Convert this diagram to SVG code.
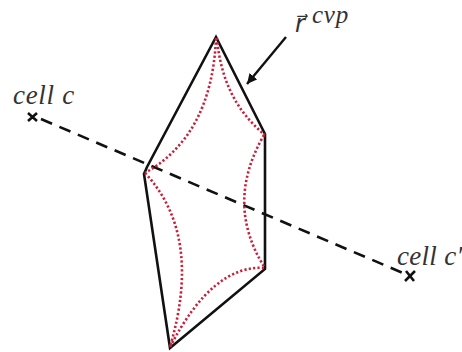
<svg xmlns="http://www.w3.org/2000/svg" width="462" height="352" viewBox="0 0 462 352">
<defs>
<marker id="ah" markerUnits="userSpaceOnUse" markerWidth="12" markerHeight="12" refX="10" refY="5" orient="auto"><path d="M0 0L10 5L0 10Z" fill="#111"/></marker>
</defs>
<style>
.solid{fill:none;stroke:#111;stroke-width:2.6;stroke-linejoin:miter}
.dot{fill:none;stroke:#c8203a;stroke-width:2.6;stroke-dasharray:2.2 2.2}
.dash{fill:none;stroke:#111;stroke-width:2.6;stroke-dasharray:12 8}
.x{fill:none;stroke:#111;stroke-width:2.6}
text{font-family:"Liberation Serif",serif;font-style:italic;fill:#333}
</style>
<rect width="462" height="352" fill="#fff"/>
<g id="connectors">
<path class="dash" d="M41 119L403 273"/>
<path d="M286 37L247 84" fill="none" stroke="#111" stroke-width="2.4" marker-end="url(#ah)"/>
</g>
<g id="cell-polygon">
<path class="solid" d="M216 37L265 134L265 269L170 348L144 174L147 167Z"/>
<path class="dot" d="M216 38Q212 135 145 173"/>
<path class="dot" d="M217 38Q222 100 265 135"/>
<path class="dot" d="M264 135Q224 204 265 268"/>
<path class="dot" d="M145 173Q203 235 170 347"/>
<path class="dot" d="M170 347Q213 264 265 268"/>
</g>
<g id="cell-c">
<path class="x" d="M28 113L37 121M37 113L28 121"/>
<text x="13" y="104" font-size="27" letter-spacing="0.7">cell c</text>
</g>
<g id="cell-c-prime">
<path class="x" d="M406 271L414 281M415 271L405 281"/>
<text x="397" y="265" font-size="27" letter-spacing="0.3">cell c′</text>
</g>
<g id="r-cvp">
<text x="295" y="32"><tspan font-size="24" style="font-family:'DejaVu Sans',sans-serif">r&#x20D7;</tspan><tspan font-size="25" dx="7" dy="-9" letter-spacing="0.8">cvp</tspan></text>
</g>
</svg>
